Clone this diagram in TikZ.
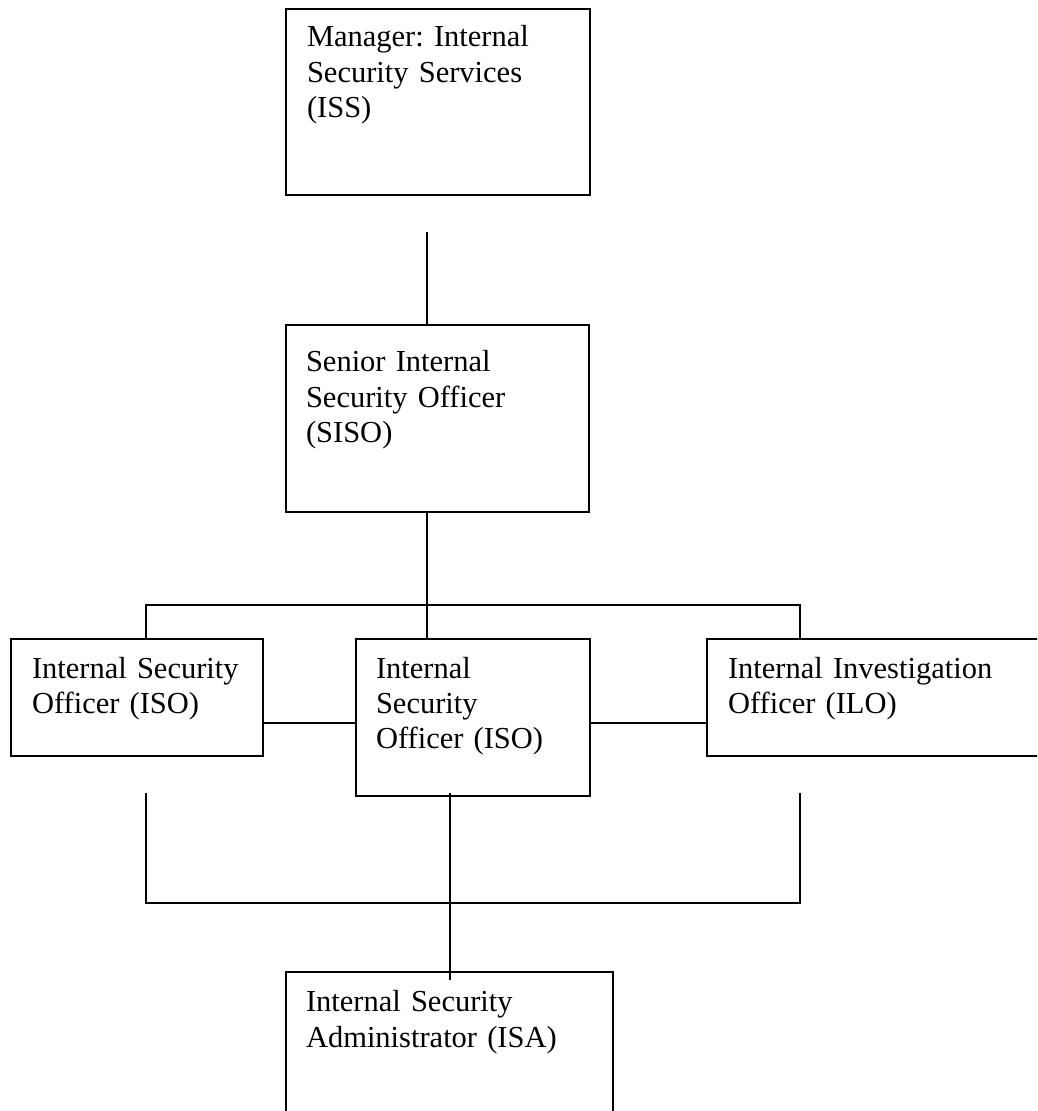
\documentclass[tikz,border=0pt]{standalone}
\usepackage{fontspec}
\setmainfont{Liberation Serif}
\frenchspacing
\begin{document}
\begin{tikzpicture}[x=1pt,y=-1pt,
  box/.style={draw=black, line width=1.7pt, rectangle, inner sep=0pt, outer sep=0pt, anchor=north west},
  lbl/.style={anchor=base west, inner sep=0pt, outer sep=0pt, text width=330pt, align=left,
    font=\frenchspacing\fontsize{30.5}{35.3}\selectfont},
  conn/.style={draw=black, line width=1.3pt}]
\useasboundingbox (0,0) rectangle (1037,1111);
\clip (0,0) rectangle (1037,1111);
\fill[white] (0,0) rectangle (1037,1111);
% boxes
\node[box, minimum width=304pt, minimum height=186pt] (mgr) at (286,9) {};
\node[box, minimum width=303pt, minimum height=187pt] (siso) at (286,325) {};
\node[box, minimum width=252pt, minimum height=117pt] (iso1) at (11,639) {};
\node[box, minimum width=234pt, minimum height=157pt] (iso2) at (356,639) {};
\node[box, minimum width=400pt, minimum height=117pt] (ilo) at (707,639) {};
\node[box, minimum width=327pt, minimum height=200pt] (isa) at (286,972) {};
% texts
\node[lbl] (mgrt) at (307,46.7) {Manager: Internal\\Security Services\\(ISS)};
\node[lbl] (sisot) at (306,371.7) {Senior Internal\\Security Officer\\(SISO)};
\node[lbl] (iso1t) at (32,678) {Internal Security\\Officer (ISO)};
\node[lbl] (iso2t) at (376,678) {Internal\\Security\\Officer (ISO)};
\node[lbl] (ilot) at (728,678) {Internal Investigation\\Officer (ILO)};
\node[lbl] (isat) at (306,1011.7) {Internal Security\\Administrator (ISA)};
% free ends
\coordinate (top1) at (427,232);
\coordinate (busL) at (146,605);
\coordinate (busR) at (800,605);
\coordinate (lowL) at (146,793);
\coordinate (lowR) at (800,793);
\coordinate (botL) at (146,903);
\coordinate (botR) at (800,903);
\coordinate (midlow) at (450,793);
\coordinate (isaend) at (450,980);
% connectors
\draw[conn] (top1) -- (top1 |- siso.north);
\draw[conn] (siso.south -| top1) -- (iso2.north -| top1);
\draw[conn] (busL |- iso1.north) -- (busL) -- (busR) -- (busR |- ilo.north);
\draw[conn] (iso1.east |- 0,723) -- (iso2.west |- 0,723);
\draw[conn] (iso2.east |- 0,723) -- (ilo.west |- 0,723);
\draw[conn] (lowL) -- (botL) -- (botR) -- (lowR);
\draw[conn] (midlow) -- (isaend);
\end{tikzpicture}
\end{document}
